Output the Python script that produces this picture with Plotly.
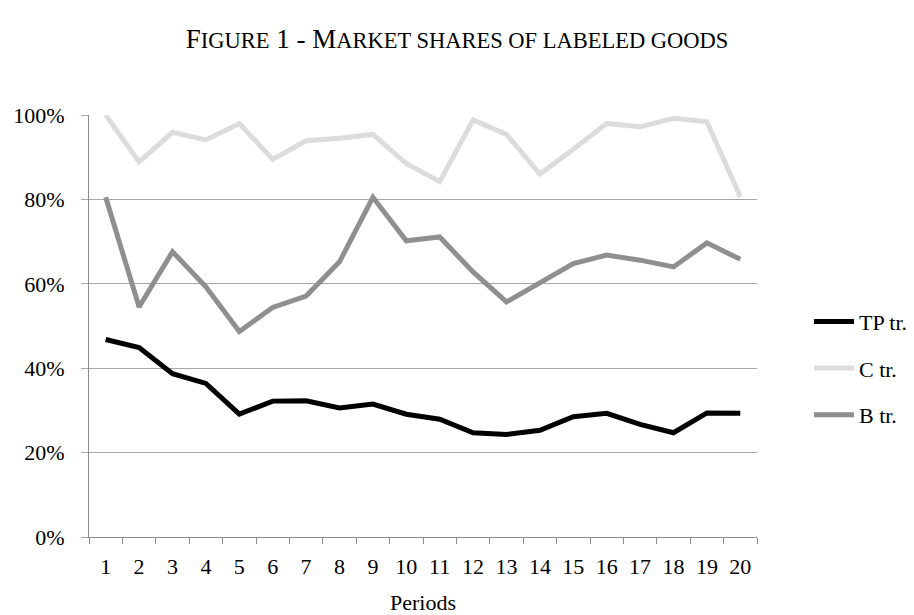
import plotly.graph_objects as go

periods = [str(i) for i in range(1, 21)]
tp_tr = [46.8, 44.9, 38.7, 36.4, 29.1, 32.2, 32.3, 30.6, 31.5, 29.1,
         27.9, 24.7, 24.3, 25.3, 28.5, 29.3, 26.7, 24.7, 29.4, 29.3]
c_tr = [100.0, 88.9, 95.9, 94.1, 98.0, 89.5, 93.9, 94.5, 95.4, 88.5,
        84.2, 98.8, 95.4, 86.0, 91.9, 98.0, 97.2, 99.2, 98.4, 80.6]
b_tr = [80.5, 54.5, 67.6, 59.3, 48.7, 54.4, 57.1, 65.2, 80.5, 70.2,
        71.1, 62.8, 55.7, 60.1, 64.8, 66.8, 65.6, 64.0, 69.7, 65.8]

series = [("TP tr.", tp_tr, "#000000"), ("C tr.", c_tr, "#dcdcdc"), ("B tr.", b_tr, "#8f8f8f")]

FONT = "Liberation Serif, Times New Roman, serif"

fig = go.Figure()
for i, (name, vals, col) in enumerate(series):
    fig.add_trace(go.Scatter(
        x=periods, y=[v / 100 for v in vals], name=name, mode="lines",
        line=dict(color=col, width=5), cliponaxis=False, legendgroup=f"g{i}"))

title = ("F<span style='font-size:22.5px'>IGURE</span> 1 - M"
         "<span style='font-size:22.5px'>ARKET SHARES OF LABELED GOODS</span>")

W, H = 906, 607
fig.update_layout(
    width=W, height=H,
    paper_bgcolor="white", plot_bgcolor="white",
    margin=dict(l=81, r=W - 749, t=107, b=H - 529, autoexpand=False),
    font=dict(family=FONT, size=22, color="black"),
    title=dict(text=title, x=449 / W, xref="container", xanchor="center",
               y=1 - 31 / H, yref="container", yanchor="middle",
               font=dict(family=FONT, size=27, color="black")),
    showlegend=True,
    legend=dict(x=1.0778, y=0.56, xanchor="left", yanchor="top",
                font=dict(family=FONT, size=22, color="black"),
                tracegroupgap=15, itemwidth=40, bgcolor="rgba(0,0,0,0)"),
    xaxis=dict(type="category", range=[-0.5, 19.5], tickson="boundaries",
               ticks="outside", ticklen=6, tickcolor="#8c8c8c", tickwidth=1,
               showline=True, linecolor="#8c8c8c", linewidth=1, showgrid=False,
               automargin=False, ticklabelstandoff=10,
               title=dict(text="Periods", font=dict(family=FONT, size=22), standoff=24),
               tickfont=dict(family=FONT, size=22)),
    yaxis=dict(range=[0, 1], dtick=0.2, tickformat=".0%", showgrid=True,
               gridcolor="#a6a6a6", gridwidth=1, zeroline=False,
               showline=True, linecolor="#8c8c8c", linewidth=1,
               ticks="outside", ticklen=7, tickcolor="#a6a6a6",
               ticklabelstandoff=12, automargin=False,
               tickfont=dict(family=FONT, size=22)),
)

fig.write_html("out.html")
